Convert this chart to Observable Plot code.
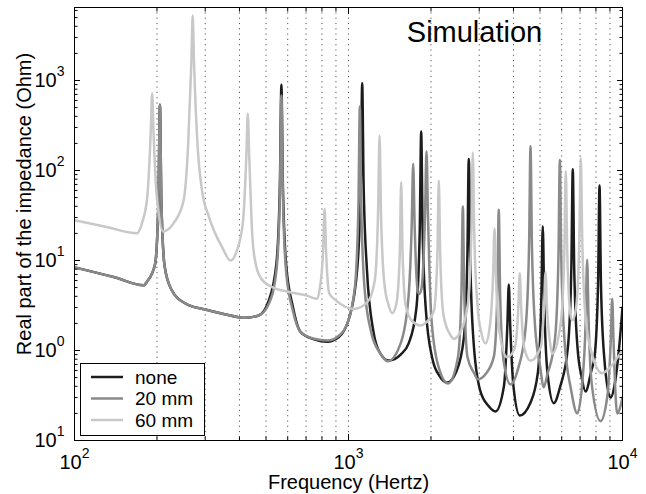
<!DOCTYPE html>
<html><head><meta charset="utf-8">
<script src="https://cdn.jsdelivr.net/npm/d3@7"></script>
<script src="https://cdn.jsdelivr.net/npm/@observablehq/plot@0.6"></script>
<style>body{margin:0;background:#fff;}</style>
</head><body><div id="chart"></div>
<script>
const seriesNames = ["none", "20 mm", "60 mm"];
const seriesColors = ["#1c1c1c", "#8a8a8a", "#c8c8c8"];

// [frequency (Hz), real part of impedance (Ohm)]
const none = [[100,8.4],[140,6.5],[179,5.3],[184.5,5.9],[196.8,9.1],[202.5,47],[205,537],[207.5,46],[213.2,8.7],[225.5,4.8],[254,3.33],[300,2.85],[350,2.55],[421,2.31],[470,2.45],[512,3.6],[546,9.4],[562,73],[569,896],[576,72],[592,9.1],[626,3.1],[669,1.6],[750,1.33],[837,1.25],[920,1.4],[1010,2.4],[1077,8.3],[1109,74],[1122,934],[1135,74],[1167,8.1],[1234,1.6],[1300,0.95],[1403,0.774],[1550,0.9],[1658,1.2],[1768,2.9],[1820,22],[1842,271],[1864,22],[1916,2.8],[2026,0.8],[2150,0.52],[2292,0.44],[2473,0.58],[2638,1.4],[2715,10.9],[2748,134],[2781,10.9],[2858,1.3],[3023,0.36],[3250,0.24],[3440,0.21],[3692,0.4],[3800,1.9],[3846,5.4],[3892,1.9],[4000,0.4],[4217,0.19],[4605,0.26],[4912,0.57],[5056,3.75],[5117,24],[5178,3.75],[5322,0.57],[5610,0.26],[5927,0.4],[6322,1.1],[6506,8.3],[6585,103],[6664,8.3],[6848,1.1],[7100,0.5],[7328,0.35],[7700,0.6],[7914,0.87],[8145,5.6],[8244,68],[8343,5.6],[8574,0.85],[9040,0.3],[9400,0.45],[9700,1.0],[10000,3]];
const mm20 = [[100,8.4],[140,6.5],[179,5.3],[184.5,5.9],[196.8,9.1],[202.5,47],[205,537],[207.5,46],[213.2,8.7],[225.5,4.8],[254,3.33],[300,2.85],[350,2.55],[421,2.31],[470,2.45],[512,3.3],[546,7.8],[562,56],[569,681],[576,55],[592,7.5],[626,2.8],[669,1.6],[750,1.35],[837,1.29],[920,1.45],[990,2.0],[1056,5.2],[1087,41],[1100,514],[1113,41],[1144,5.0],[1210,1.6],[1300,0.95],[1390,0.76],[1550,1.2],[1653,3.7],[1701,25],[1722,119],[1743,25],[1791,4.5],[1815,4.25],[1849,5.0],[1903,34],[1926,164],[1949,34],[2003,2.5],[2119,0.7],[2310,0.43],[2509,0.84],[2583,4.4],[2614,39.8],[2645,4.4],[2719,0.84],[2875,0.56],[2960,0.48],[3182,0.56],[3394,0.86],[3493,4.2],[3535,36.6],[3577,4.2],[3676,0.8],[3902,0.42],[4154,0.62],[4431,1.8],[4561,15],[4616,186],[4671,15],[4800,1.8],[5000,0.68],[5161,0.39],[5316,0.54],[5671,1.35],[5836,10.5],[5907,131],[5978,10.5],[6143,1.3],[6498,0.36],[6834,0.2],[7133,0.44],[7341,2.2],[7430,10.2],[7519,2.2],[7727,0.42],[8313,0.164],[8803,0.31],[9060,1.3],[9170,3.75],[9280,1.2],[9400,0.4],[9566,0.2],[10000,0.3]];
const mm60 = [[100,28],[130,23.7],[169,20.1],[177,27],[184.3,51],[189.7,261],[192,722],[194.3,261],[199.7,51],[211,21],[230,26],[250,46],[260,200],[266.8,1500],[270,5275],[273.2,1500],[281,200],[292,60],[309,31],[346,14],[371,10],[390,12.5],[412,27],[424,151],[429,426],[434,151],[446,18],[458,9.3],[480,6.3],[527,5.06],[600,4.5],[700,4.1],[768,3.75],[785,4.8],[808,13],[818,37.5],[828,13],[851,4.3],[900,3.6],[1045,2.9],[1168,3.4],[1246,5.9],[1282,33],[1298,245],[1314,33],[1350,5.8],[1400,3.2],[1444,2.6],[1495,3.3],[1538,11.4],[1557,74],[1576,11.4],[1619,3.1],[1713,2.1],[1831,1.9],[1922,2.05],[2051,2.8],[2110,11.3],[2136,77],[2162,11.3],[2221,2.5],[2350,1.5],[2423,1.35],[2558,1.6],[2728,3.3],[2808,20.7],[2842,158],[2876,20.7],[2956,3.2],[3050,1.6],[3162,1.2],[3275,1.8],[3370,6.8],[3411,22.5],[3452,6.8],[3547,1.7],[3794,0.84],[4048,1.07],[4166,3.0],[4217,7.2],[4268,3.0],[4386,1.05],[4616,0.77],[5027,1.08],[5173,3.1],[5236,7.4],[5299,3.1],[5445,1.2],[5540,0.92],[5960,2.1],[6134,13],[6209,99],[6284,13],[6457,2.5],[6554,2.15],[6761,2.9],[6958,17.8],[7043,138],[7128,17.8],[7325,2.4],[7747,0.9],[8433,0.56],[9000,0.65],[9800,0.92],[10000,1.0]];

const xMajor = [100, 1000, 10000];
const xMinor = [200,300,400,500,600,700,800,900,2000,3000,4000,5000,6000,7000,8000,9000];
const xGrid = [200,300,400,500,600,700,800,900,1000,2000,3000,4000,5000,6000,7000,8000,9000];
const yMajor = [0.1, 1, 10, 100, 1000];
const yMinor = [0.2,0.3,0.4,0.5,0.6,0.7,0.8,0.9,2,3,4,5,6,7,8,9,20,30,40,50,60,70,80,90,200,300,400,500,600,700,800,900,2000,3000,4000,5000,6000];
const xTickLabels = ["10^2", "10^3", "10^4"];
const yTickLabels = ["10^1", "10^0", "10^1", "10^2", "10^3"]; // as printed in the figure
const xLabel = "Frequency (Hertz)";
const yLabel = "Real part of the impedance (Ohm)";
const title = "Simulation";

const font = "'Liberation Sans', Arial, Helvetica, sans-serif";
const rows = [];
[none, mm20, mm60].forEach((s, i) => s.forEach(([f, v]) => rows.push({series: seriesNames[i], f, v})));
const xLab = new Map(xMajor.map((d, i) => [d, xTickLabels[i]]));
const yLab = new Map(yMajor.map((d, i) => [d, yTickLabels[i]]));

const plot = Plot.plot({
  width: 646, height: 494,
  marginLeft: 74, marginRight: 24, marginTop: 7, marginBottom: 54,
  style: {fontFamily: font, fontSize: "20px", background: "white", color: "black", overflow: "visible"},
  x: {type: "log", domain: [100, 10000], axis: null},
  y: {type: "log", domain: [0.1, 6470], axis: null},
  color: {domain: seriesNames, range: seriesColors},
  marks: [
    Plot.ruleX(xGrid, {stroke: "#555", strokeDasharray: "1.2,4.1", strokeWidth: 1}),
    Plot.line(rows, {x: "f", y: "v", z: "series", stroke: "series", strokeWidth: 2.5, curve: "monotone-x", clip: true}),
    Plot.axisY(yMajor, {anchor: "left", tickSize: -6, fill: "none", label: null}),
    Plot.axisY(yMinor, {anchor: "left", tickSize: -3.5, fill: "none", label: null}),
    Plot.axisY(yMajor, {anchor: "right", tickSize: -6, fill: "none", label: null}),
    Plot.axisY(yMinor, {anchor: "right", tickSize: -3.5, fill: "none", label: null}),
    Plot.axisX(xMajor, {anchor: "bottom", tickSize: -6, fill: "none", label: null}),
    Plot.axisX(xMinor, {anchor: "bottom", tickSize: -3.5, fill: "none", label: null}),
    Plot.axisX(xMajor, {anchor: "top", tickSize: -6, fill: "none", label: null}),
    Plot.axisX(xMinor, {anchor: "top", tickSize: -3.5, fill: "none", label: null}),
    Plot.frame({stroke: "black", strokeWidth: 1}),
    Plot.axisY(yMajor, {anchor: "left", tickSize: 0, tickPadding: 10, tickFormat: d => yLab.get(d), fontSize: 20, label: null}),
    Plot.axisX(xMajor, {anchor: "bottom", tickSize: 0, tickPadding: 14, tickFormat: d => xLab.get(d), fontSize: 20, label: null}),
    Plot.text([xLabel], {frameAnchor: "bottom", textAnchor: "middle", lineAnchor: "middle", dy: 42, fontSize: 20}),
    Plot.text([yLabel], {frameAnchor: "left", textAnchor: "middle", lineAnchor: "middle", rotate: -90, dx: -50, dy: -20, fontSize: 20}),
    Plot.text([title], {frameAnchor: "top-left", textAnchor: "middle", lineAnchor: "middle", dx: 400, dy: 25, fontSize: 29})
  ]
});

// superscript exponents in tick labels
plot.querySelectorAll('g[aria-label$="tick label"] text').forEach(el => {
  const m = el.textContent.match(/^(\d+)\^(-?\d+)$/);
  if (!m) return;
  el.textContent = m[1];
  const ts = document.createElementNS("http://www.w3.org/2000/svg", "tspan");
  ts.setAttribute("dy", "-11");
  ts.setAttribute("font-size", "14");
  ts.textContent = m[2];
  el.appendChild(ts);
});

// legend box
const svg = d3.select(plot);
const lg = svg.append("g").attr("font-family", font).attr("font-size", 19).attr("text-anchor", "start");
lg.append("rect").attr("x", 80.5).attr("y", 363.5).attr("width", 124).attr("height", 72)
  .attr("fill", "white").attr("stroke", "black").attr("stroke-width", 1);
seriesNames.forEach((n, i) => {
  const y = 377 + i * 21.5;
  lg.append("line").attr("x1", 91).attr("x2", 123).attr("y1", y).attr("y2", y)
    .attr("stroke", seriesColors[i]).attr("stroke-width", 2.5);
  lg.append("text").attr("x", 135).attr("y", y).attr("dy", "0.35em").attr("fill", "black").text(n);
});

document.getElementById("chart").appendChild(plot);
</script>
</body></html>
